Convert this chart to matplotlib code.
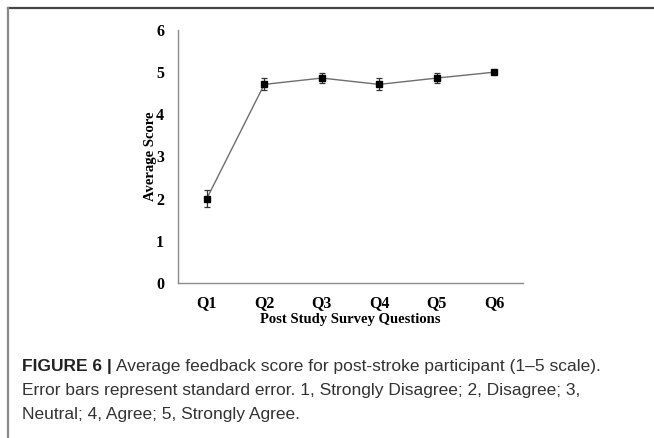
import matplotlib
matplotlib.use("Agg")
import matplotlib.pyplot as plt
from matplotlib.lines import Line2D

categories = ["Q1", "Q2", "Q3", "Q4", "Q5", "Q6"]
scores = [2.0, 4.71, 4.86, 4.71, 4.86, 5.0]
errors = [0.2, 0.14, 0.12, 0.14, 0.12, 0.0]
yticks = [0, 1, 2, 3, 4, 5, 6]

W, H = 654, 438
fig = plt.figure(figsize=(W / 100, H / 100), dpi=100)

# axes placement in pixels
x0, x1 = 178, 523
y0, y1 = 283, 30
ax = fig.add_axes([x0 / W, 1 - y0 / H, (x1 - x0) / W, (y0 - y1) / H])

xs = list(range(len(categories)))
ax.plot(xs, scores, color="#6e6e6e", lw=1.0, zorder=2)
ax.errorbar(xs, scores, yerr=errors, fmt="none", ecolor="#333333",
            elinewidth=0.9, capsize=2.5, capthick=0.9, zorder=3)
ax.plot(xs, scores, ls="none", marker="s", ms=4.5, color="black", zorder=4)

ax.set_xlim(-0.5, 5.5)
ax.set_ylim(0, 6)
ax.set_yticks(yticks)
ax.set_xticks(xs)
ax.set_xticklabels(categories)
ax.tick_params(length=0, labelsize=11.5, pad=10)
ax.tick_params(axis="x", pad=9)
for lab in ax.get_xticklabels() + ax.get_yticklabels():
    lab.set_fontfamily("Liberation Serif")
    lab.set_fontweight("bold")
for s in ["top", "right"]:
    ax.spines[s].set_visible(False)
for s in ["left", "bottom"]:
    ax.spines[s].set_color("#8c8c8c")
    ax.spines[s].set_linewidth(1.0)

ax.set_ylabel("Average Score", fontfamily="Liberation Serif", fontweight="bold",
              fontsize=10.5)
ax.yaxis.set_label_coords((157 - x0) / (x1 - x0), 0.5)
ax.set_xlabel("Post Study Survey Questions", fontfamily="Liberation Serif",
              fontweight="bold", fontsize=10.5, labelpad=1)

# frame lines of the figure panel
fig.add_artist(Line2D([7.5 / W, 1], [1 - 8 / H, 1 - 8 / H], color="#444444", lw=1.6,
                      transform=fig.transFigure))
fig.add_artist(Line2D([7.5 / W, 7.5 / W], [1 - 8 / H, 0], color="#888888", lw=1.6,
                      transform=fig.transFigure))

# caption
cap_fs = 12.5
fx = 22 / W
t = fig.text(fx, 1 - 367 / H, "FIGURE 6 |", fontfamily="Liberation Sans",
             fontweight="bold", fontsize=cap_fs, va="center", color="#222222")
fig.canvas.draw()
bb = t.get_window_extent()
fig.text(bb.x1 / W + 4 / W, 1 - 367 / H,
         "Average feedback score for post-stroke participant (1\u20135 scale).",
         fontfamily="Liberation Sans", fontsize=cap_fs, va="center", color="#333333")
fig.text(fx, 1 - 391 / H,
         "Error bars represent standard error. 1, Strongly Disagree; 2, Disagree; 3,",
         fontfamily="Liberation Sans", fontsize=cap_fs, va="center", color="#333333")
fig.text(fx, 1 - 414 / H, "Neutral; 4, Agree; 5, Strongly Agree.",
         fontfamily="Liberation Sans", fontsize=cap_fs, va="center", color="#333333")

fig.savefig("out.png", dpi=100)
